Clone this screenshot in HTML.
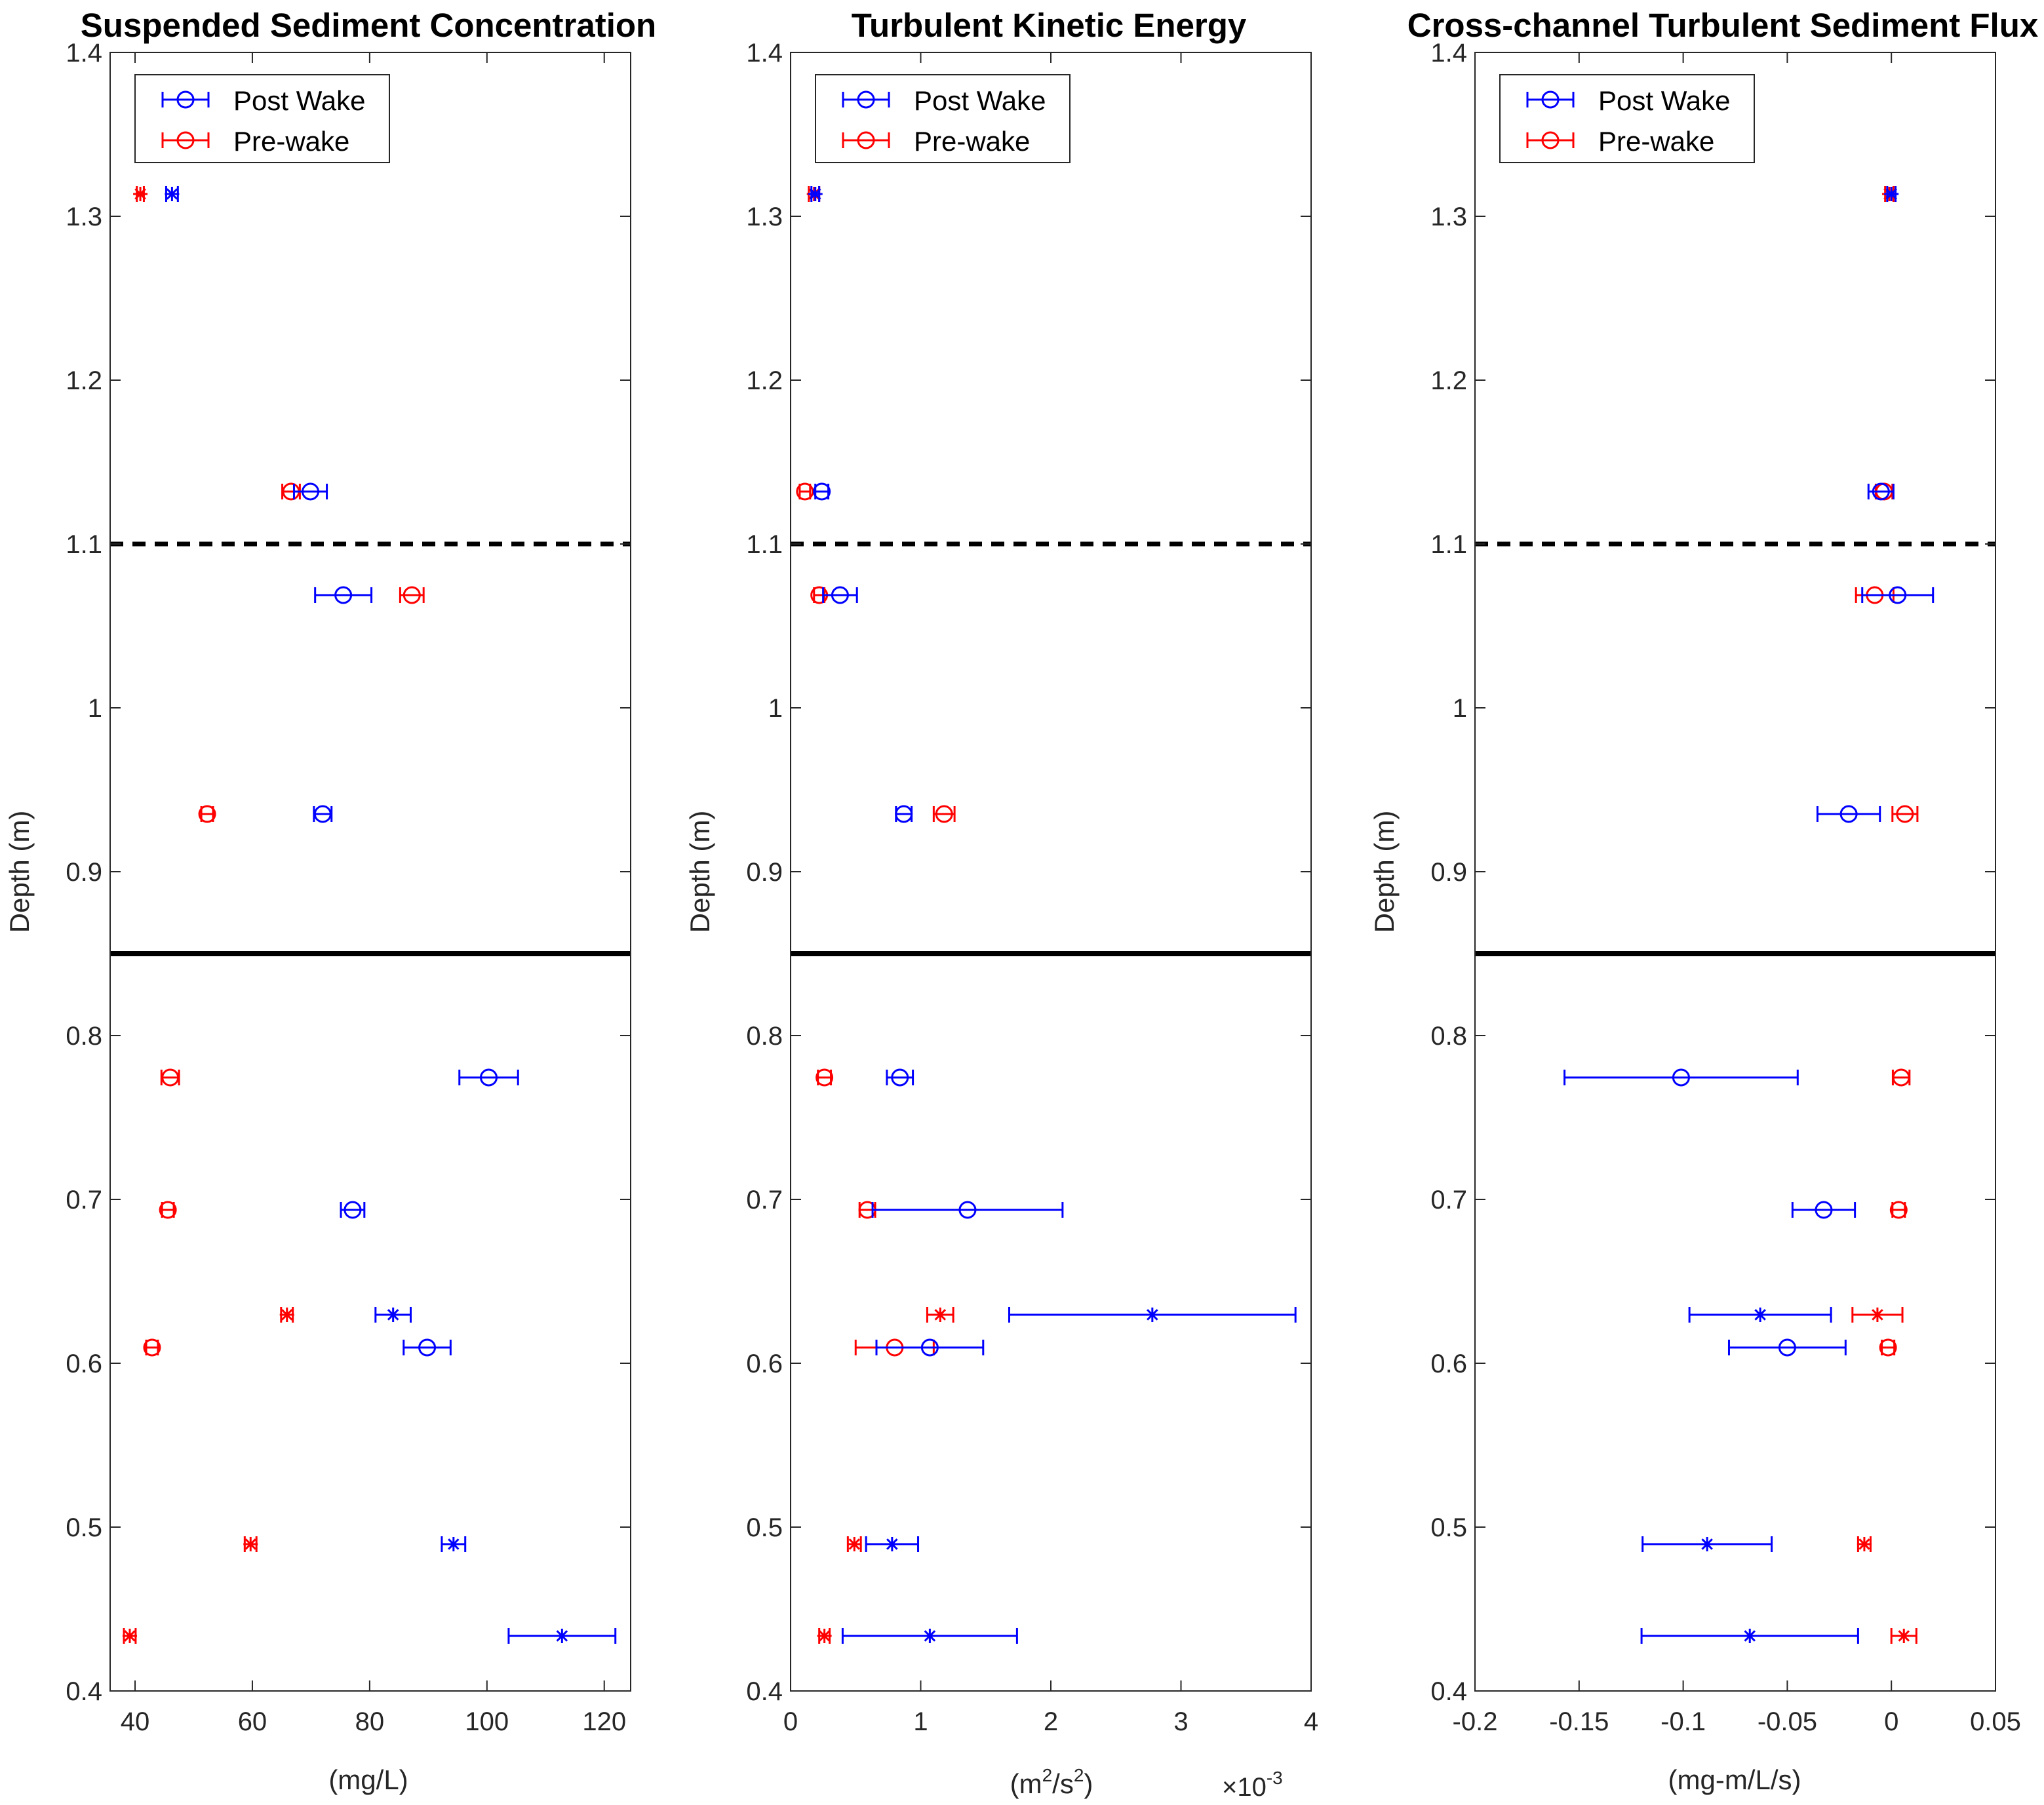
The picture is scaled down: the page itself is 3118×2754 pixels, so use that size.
<!DOCTYPE html>
<html><head><meta charset="utf-8"><style>
html,body{margin:0;padding:0;background:#fff}
svg{display:block;font-family:"Liberation Sans",Arial,sans-serif}
</style></head><body>
<svg id="fig" width="3118" height="2754" viewBox="0 0 1559 1377"></svg>
<script>
// Shared depths
const depths = [1.3136, 1.132, 1.0688, 0.9352, 0.7744, 0.6936, 0.6296, 0.6096, 0.4896, 0.4336];
const starFlags = [1, 0, 0, 0, 0, 0, 1, 0, 1, 1];
// Panel 1: SSC (mg/L)
const sscPost = [46.3, 69.9, 75.5, 72.0, 100.3, 77.1, 84.0, 89.8, 94.3, 112.8];
const sscPostErr = [1.0, 2.8, 4.8, 1.5, 5.0, 2.0, 3.0, 4.0, 2.0, 9.1];
const sscPre = [40.9, 66.6, 87.2, 52.3, 46.0, 45.6, 65.9, 42.9, 59.7, 39.1];
const sscPreErr = [0.6, 1.5, 2.0, 1.0, 1.5, 1.0, 1.0, 1.0, 1.0, 1.0];
// Panel 2: TKE (x1e-3 m2/s2)
const tkePost = [0.19, 0.24, 0.38, 0.87, 0.84, 1.36, 2.78, 1.07, 0.78, 1.07];
const tkePostErr = [0.03, 0.05, 0.13, 0.06, 0.1, 0.73, 1.1, 0.41, 0.2, 0.67];
const tkePre = [0.18, 0.11, 0.22, 1.18, 0.26, 0.59, 1.15, 0.8, 0.49, 0.26];
const tkePreErr = [0.04, 0.04, 0.04, 0.08, 0.05, 0.06, 0.1, 0.3, 0.05, 0.04];
// Panel 3: flux (mg-m/L/s)
const fluxPost = [0.0, -0.005, 0.003, -0.0205, -0.101, -0.0325, -0.063, -0.05, -0.0885, -0.068];
const fluxPostErr = [0.002, 0.006, 0.017, 0.015, 0.056, 0.015, 0.034, 0.028, 0.031, 0.052];
const fluxPre = [-0.001, -0.0035, -0.008, 0.0065, 0.0047, 0.0035, -0.0067, -0.0016, -0.013, 0.006];
const fluxPreErr = [0.002, 0.004, 0.009, 0.006, 0.004, 0.003, 0.012, 0.003, 0.003, 0.006];
// Ticks
const yTicks = [0.4, 0.5, 0.6, 0.7, 0.8, 0.9, 1, 1.1, 1.2, 1.3, 1.4];
const yTickLabels = ["0.4","0.5","0.6","0.7","0.8","0.9","1","1.1","1.2","1.3","1.4"];
const x1Ticks = [40, 60, 80, 100, 120];
const x2Ticks = [0, 1, 2, 3, 4];
const x3Ticks = [-0.2, -0.15, -0.1, -0.05, 0, 0.05];
const x3Labels = ["-0.2","-0.15","-0.1","-0.05","0","0.05"];

const NS = "http://www.w3.org/2000/svg";
const svg = document.getElementById('fig');
function mk(tag, attrs, parent, text){
  const e = document.createElementNS(NS, tag);
  for (const k in attrs) e.setAttribute(k, attrs[k]);
  if (text !== undefined) e.textContent = text;
  (parent || svg).appendChild(e);
  return e;
}
const Y0 = 40, Y1 = 1290;
function yS(d){ return Y1 - (d - 0.4) / 1.0 * (Y1 - Y0); }

const panels = [
  {left:84, right:481, xmin:35.75, xmax:124.5, title:"Suspended Sediment Concentration", tcx:281, ticks:x1Ticks, labels:x1Ticks.map(String), post:sscPost, postErr:sscPostErr, pre:sscPre, preErr:sscPreErr, xl:"ssc"},
  {left:603, right:1000, xmin:0, xmax:4, title:"Turbulent Kinetic Energy", tcx:800, ticks:x2Ticks, labels:x2Ticks.map(String), post:tkePost, postErr:tkePostErr, pre:tkePre, preErr:tkePreErr, xl:"tke"},
  {left:1125, right:1522, xmin:-0.2, xmax:0.05, title:"Cross-channel Turbulent Sediment Flux", tcx:1314, ticks:x3Ticks, labels:x3Labels, post:fluxPost, postErr:fluxPostErr, pre:fluxPre, preErr:fluxPreErr, xl:"flux"}
];

panels.forEach((p, pi) => {
  const g = mk('g', {});
  
  
  const xS = v => p.left + (v - p.xmin) / (p.xmax - p.xmin) * (p.right - p.left);
  const dl = mk('line', {x1:p.left, x2:p.right, y1:yS(1.1), y2:yS(1.1), stroke:'#000','stroke-width':3.5,'stroke-dasharray':'10,7'}, g);
  
  
  const sl = mk('line', {x1:p.left, x2:p.right, y1:yS(0.85), y2:yS(0.85), stroke:'#000','stroke-width':4}, g);
  
  
  const bx = mk('rect', {x:p.left, y:Y0, width:p.right-p.left, height:Y1-Y0, fill:'none', stroke:'#262626','stroke-width':1}, g);
  
  
  yTicks.forEach((t, i) => {
    const y = yS(t);
    mk('line', {x1:p.left, x2:p.left+8, y1:y, y2:y, stroke:'#262626'}, g);
    mk('line', {x1:p.right, x2:p.right-8, y1:y, y2:y, stroke:'#262626'}, g);
    const tl = mk('text', {x:p.left-6, y:y+7, 'text-anchor':'end','font-size':20, fill:'#262626'}, g, yTickLabels[i]);
    
    
  });
  p.ticks.forEach((t, i) => {
    const x = xS(t);
    mk('line', {x1:x, x2:x, y1:Y1, y2:Y1-8, stroke:'#262626'}, g);
    mk('line', {x1:x, x2:x, y1:Y0, y2:Y0+8, stroke:'#262626'}, g);
    const tl = mk('text', {x:x, y:Y1+30, 'text-anchor':'middle','font-size':20, fill:'#262626'}, g, p.labels[i]);
    
    
  });
  const tt = mk('text', {x:p.tcx, y:28, 'text-anchor':'middle','font-size':25.5,'font-weight':'bold', fill:'#000'}, g, p.title);
  
  
  const yl = mk('text', {x:0, y:0, 'text-anchor':'middle','font-size':21, fill:'#262626', transform:`translate(${p.left-62},665) rotate(-90)`}, g, 'Depth (m)');
  
  
  let xl;
  if (p.xl === 'ssc') xl = mk('text', {x:281, y:1365, 'text-anchor':'middle','font-size':21, fill:'#262626'}, g, '(mg/L)');
  else if (p.xl === 'flux') xl = mk('text', {x:1323, y:1365, 'text-anchor':'middle','font-size':21, fill:'#262626'}, g, '(mg-m/L/s)');
  else {
    xl = mk('text', {x:802, y:1368, 'text-anchor':'middle','font-size':21, fill:'#262626'}, g);
    xl.innerHTML = '(m<tspan dy="-9" font-size="14">2</tspan><tspan dy="9">/s</tspan><tspan dy="-9" font-size="14">2</tspan><tspan dy="9">)</tspan>';
    const ex = mk('text', {x:932, y:1370, 'font-size':20, fill:'#262626'}, g);
    ex.innerHTML = '×10<tspan dy="-9" font-size="14">-3</tspan>';
    
    
  }
  
  
  const series = [{v:p.pre, e:p.preErr, c:'#ff0000', n:'pre-wake'}, {v:p.post, e:p.postErr, c:'#0000ff', n:'post-wake'}];
  series.forEach(s => {
    s.v.forEach((v, i) => {
      const y = yS(depths[i]), x = xS(v), xa = xS(v - s.e[i]), xb = xS(v + s.e[i]);
      const sg = mk('g', {stroke:s.c, 'stroke-width':1.5, fill:'none'}, g);
      
      
      mk('line', {x1:xa, x2:xb, y1:y, y2:y}, sg);
      mk('line', {x1:xa, x2:xa, y1:y-6, y2:y+6}, sg);
      mk('line', {x1:xb, x2:xb, y1:y-6, y2:y+6}, sg);
      if (starFlags[i]) {
        const r = 5.5;
        mk('line', {x1:x-r, x2:x+r, y1:y, y2:y}, sg);
        mk('line', {x1:x, x2:x, y1:y-r, y2:y+r}, sg);
        mk('line', {x1:x-r*0.7, x2:x+r*0.7, y1:y-r*0.7, y2:y+r*0.7}, sg);
        mk('line', {x1:x-r*0.7, x2:x+r*0.7, y1:y+r*0.7, y2:y-r*0.7}, sg);
      } else {
        mk('circle', {cx:x, cy:y, r:6}, sg);
      }
    });
  });
  const lx = p.left + 19;
  const lg = mk('g', {}, g);
  
  
  mk('rect', {x:lx, y:57, width:194, height:67, fill:'#fff', stroke:'#262626'}, lg);
  [['Post Wake','#0000ff',76],['Pre-wake','#ff0000',107]].forEach(([lab,c,y]) => {
    const eg = mk('g', {stroke:c,'stroke-width':1.5, fill:'none'}, lg);
    
    
    mk('line', {x1:lx+21, x2:lx+56, y1:y, y2:y}, eg);
    mk('line', {x1:lx+21, x2:lx+21, y1:y-6, y2:y+6}, eg);
    mk('line', {x1:lx+56, x2:lx+56, y1:y-6, y2:y+6}, eg);
    mk('circle', {cx:lx+38.5, cy:y, r:6}, eg);
    mk('text', {x:lx+75, y:y+8, 'font-size':21, fill:'#000', stroke:'none'}, lg, lab);
  });
});
</script>
</body></html>
